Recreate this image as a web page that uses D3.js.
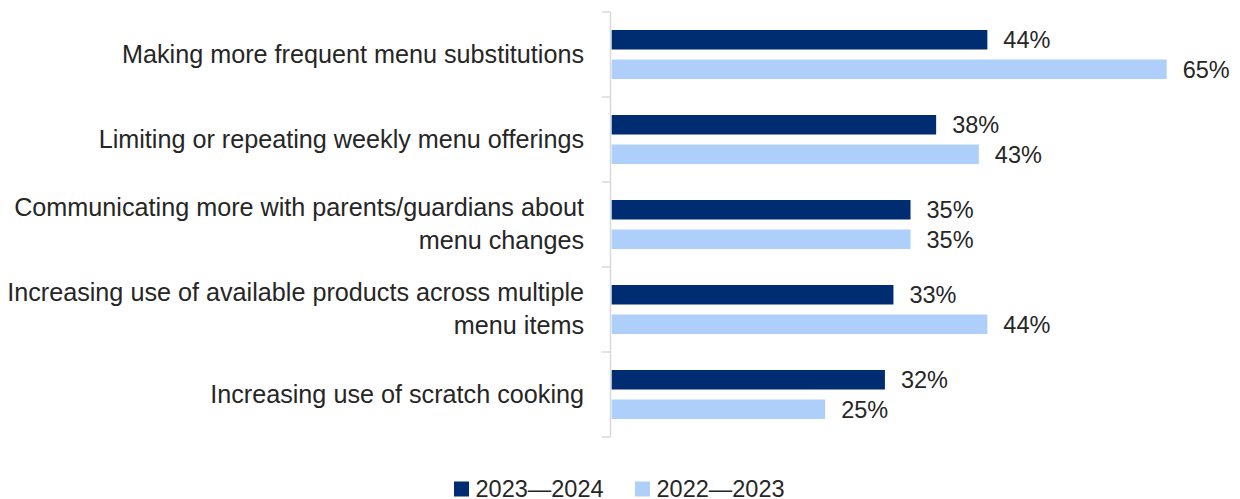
<!DOCTYPE html>
<html>
<head>
<meta charset="utf-8">
<script src="https://cdn.jsdelivr.net/npm/d3@7"></script>
<style>
  html, body { margin: 0; padding: 0; background: #ffffff; }
  svg { display: block; }
</style>
</head>
<body>
<div id="chart"></div>
<script>
// Menu strategies, each row may wrap onto two lines
const categories = [
  ["Making more frequent menu substitutions"],
  ["Limiting or repeating weekly menu offerings"],
  ["Communicating more with parents/guardians about", "menu changes"],
  ["Increasing use of available products across multiple", "menu items"],
  ["Increasing use of scratch cooking"]
];
const seriesNames = ["2023\u20142024", "2022\u20142023"];
const values2023_24 = [44, 38, 35, 33, 32];
const values2022_23 = [65, 43, 35, 44, 25];
const seriesColors = ["#002D72", "#AFCFFB"];

const width = 1240, height = 499;
const axisX = 611;
const plotTop = 12, plotBottom = 437;

const svg = d3.select("#chart").append("svg")
  .attr("width", width).attr("height", height);

const rows = categories.map((c, i) => ({
  label: c,
  vals: [values2023_24[i], values2022_23[i]]
}));

const y = d3.scaleBand()
  .domain(d3.range(rows.length))
  .range([plotTop, plotBottom])
  .paddingInner(0).paddingOuter(0);

const ySub = d3.scaleBand()
  .domain(d3.range(seriesNames.length))
  .range([0, y.bandwidth()])
  .paddingInner(0.339).paddingOuter(0.61);

const x = d3.scaleLinear().domain([0, 100]).range([axisX + 0.7, axisX + 0.7 + 853.8]);

// Category axis with boundary ticks
const axisG = svg.append("g");
axisG.append("line")
  .attr("x1", axisX - 0.5).attr("x2", axisX - 0.5)
  .attr("y1", plotTop).attr("y2", plotBottom)
  .attr("stroke", "#d9d9d9").attr("stroke-width", 1.5);
const bounds = d3.range(rows.length + 1).map(i => i < rows.length ? y(i) : plotBottom);
axisG.selectAll("line.tick").data(bounds).join("line")
  .attr("class", "tick")
  .attr("x1", axisX - 9).attr("x2", axisX - 0.5)
  .attr("y1", d => d).attr("y2", d => d)
  .attr("stroke", "#d9d9d9").attr("stroke-width", 1.5);

// Category labels
const labelFont = "'Liberation Sans', Arial, sans-serif";
const lineH = 33;
const lab = svg.append("g").selectAll("text").data(rows).join("text")
  .attr("text-anchor", "end")
  .attr("font-family", labelFont)
  .attr("font-size", 25.2)
  .attr("fill", "#262626");
lab.each(function(d, i) {
  const cy = y(i) + y.bandwidth() / 2;
  const n = d.label.length;
  d3.select(this).selectAll("tspan").data(d.label).join("tspan")
    .attr("x", axisX - 27)
    .attr("y", (t, j) => cy + (j - (n - 1) / 2) * lineH)
    .attr("dy", "0.33em")
    .text(t => t);
});

// Bars
const rowG = svg.append("g").selectAll("g").data(rows).join("g")
  .attr("transform", (d, i) => `translate(0,${y(i)})`);

rowG.selectAll("rect").data(d => d.vals).join("rect")
  .attr("x", x(0))
  .attr("y", (v, j) => ySub(j))
  .attr("width", v => x(v) - x(0))
  .attr("height", ySub.bandwidth())
  .attr("fill", (v, j) => seriesColors[j]);

// Value labels
rowG.selectAll("text").data(d => d.vals).join("text")
  .attr("x", v => x(v) + 16)
  .attr("y", (v, j) => ySub(j) + ySub.bandwidth() / 2)
  .attr("dy", "0.36em")
  .attr("font-family", "'Liberation Sans', Arial, sans-serif")
  .attr("font-size", 23.5)
  .attr("fill", "#262626")
  .text(v => v + "%");

// Legend
const legendX = [454, 635];
const leg = svg.append("g").selectAll("g").data(seriesNames).join("g")
  .attr("transform", (d, i) => `translate(${legendX[i]},481.5)`);
leg.append("rect")
  .attr("width", 15).attr("height", 15)
  .attr("fill", (d, i) => seriesColors[i]);
leg.append("text")
  .attr("x", 21.5).attr("y", 15)
  .attr("font-family", "'Liberation Sans', Arial, sans-serif")
  .attr("font-size", 23.5)
  .attr("fill", "#262626")
  .text(d => d);
</script>
</body>
</html>
